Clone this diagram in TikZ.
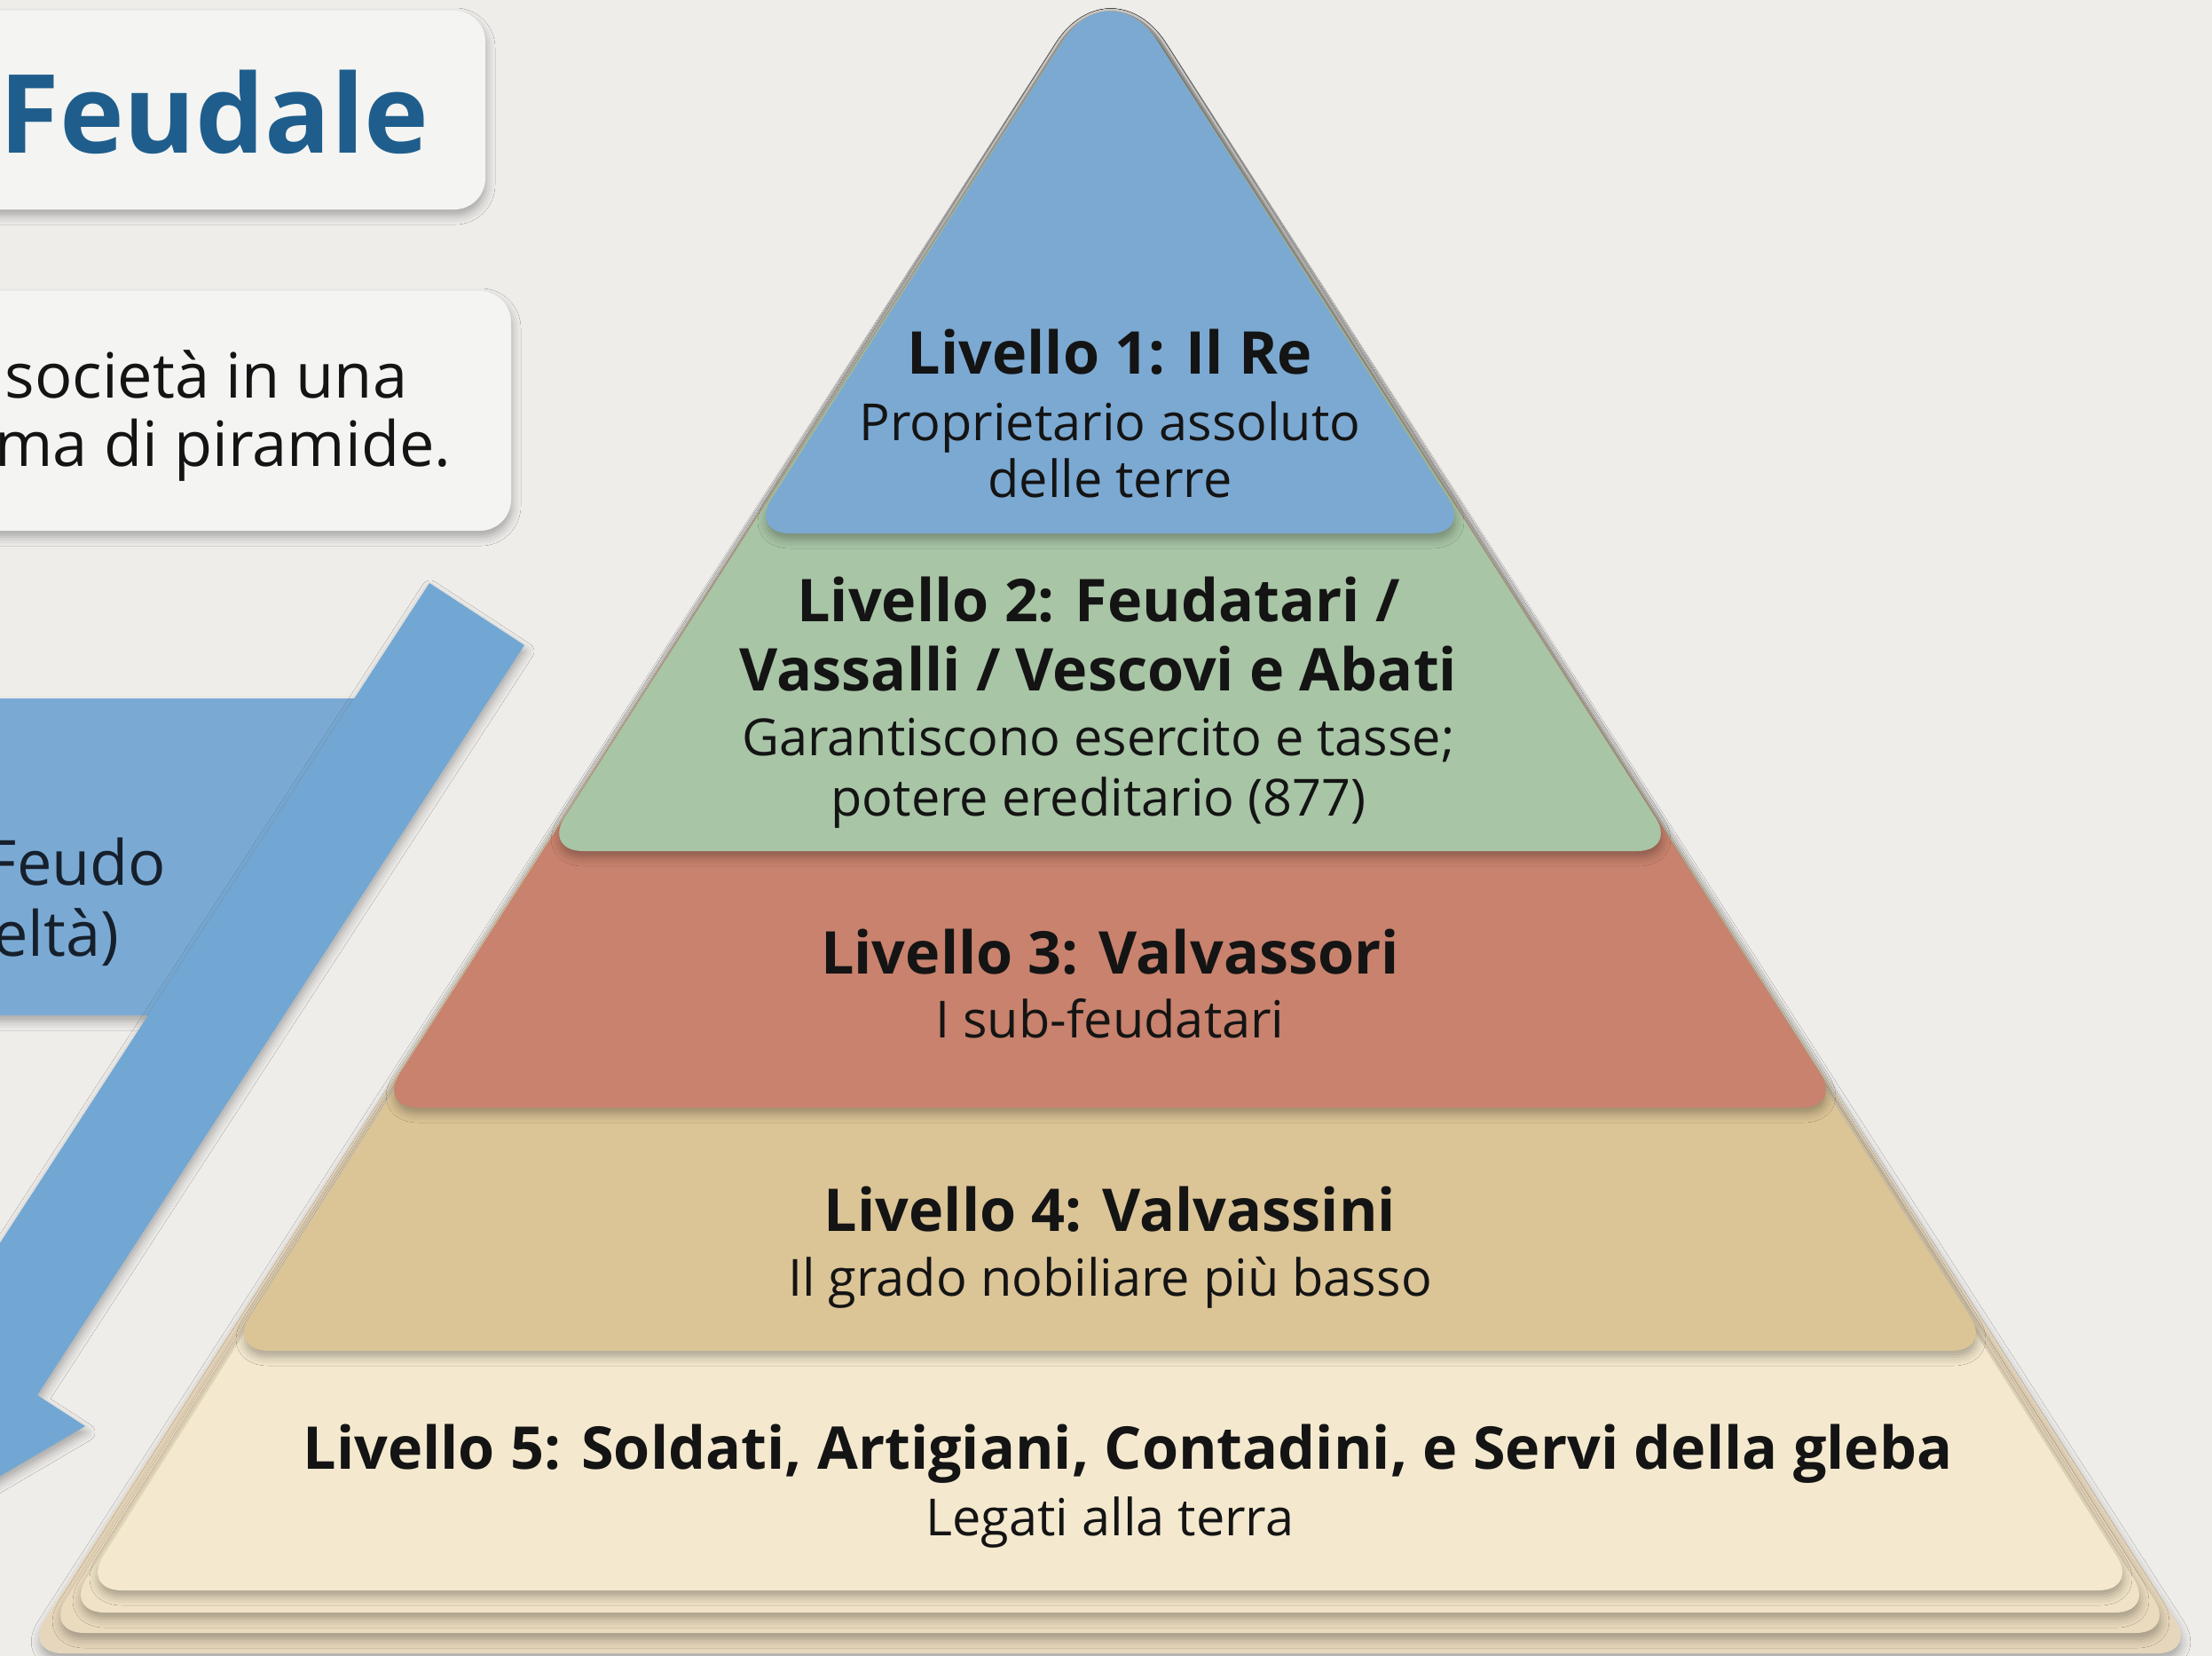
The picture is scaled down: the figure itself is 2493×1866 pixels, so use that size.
\documentclass[tikz,border=0pt]{standalone}
\usepackage{fontspec}
\setmainfont{Open Sans}
\usetikzlibrary{shadows.blur,calc}
\definecolor{bgc}{HTML}{EEEDEA}
\definecolor{boxc}{HTML}{F4F4F2}
\definecolor{titc}{HTML}{1F5E8C}
\definecolor{txtc}{HTML}{141414}
\definecolor{bandtxt}{HTML}{16202C}
\definecolor{arrc}{HTML}{72A7D4}
\definecolor{bandc}{HTML}{7AAAD4}
\definecolor{lone}{HTML}{7BA9D2}
\definecolor{ltwo}{HTML}{A8C5A6}
\definecolor{lthree}{HTML}{C8826D}
\definecolor{lfour}{HTML}{DBC496}
\definecolor{lfive}{HTML}{F4E9CF}
\definecolor{exone}{HTML}{EFE2C6}
\definecolor{extwo}{HTML}{EADBBE}
\definecolor{exthree}{HTML}{E6D6BB}
\tikzset{
  shad/.style={blur shadow={shadow xshift=0.01cm, shadow yshift=-0.07cm, shadow blur radius=0.1cm, shadow opacity=30}},
  layer/.style={shad},
  lvlhead/.style={font=\bfseries\fontsize{18.9}{22}\selectfont, text=txtc, inner sep=0pt, anchor=base},
  lvlsub/.style={font=\fontsize{16.4}{19}\selectfont, text=txtc, inner sep=0pt, anchor=base},
  boxtxt/.style={font=\fontsize{20}{23}\selectfont, text=txtc, inner sep=0pt, anchor=base east},
  panel/.style={fill=boxc, rounded corners=0.35cm, shad}
}
% triangle layer with rounded corners: #1 bottom y, #2 half width, #3 colour
\newcommand{\pyrlayer}[3]{%
  \coordinate (apx) at (1251,-37);
  \coordinate (cr) at (1251+#2,#1);
  \coordinate (cl) at (1251-#2,#1);
  \coordinate (pr) at ($(apx)!1cm!(cr)$);
  \coordinate (pl) at ($(apx)!1cm!(cl)$);
  \coordinate (rb) at ($(cr)!0.45cm!(cl)$);
  \coordinate (ru) at ($(cr)!0.45cm!(apx)$);
  \coordinate (lb) at ($(cl)!0.45cm!(cr)$);
  \coordinate (lu) at ($(cl)!0.45cm!(apx)$);
  \path[layer, fill=#3] (rb) .. controls ($(rb)!0.55!(cr)$) and ($(ru)!0.55!(cr)$) .. (ru)
    -- (pr) .. controls ($(pr)!0.55!(apx)$) and ($(pl)!0.55!(apx)$) .. (pl)
    -- (lu) .. controls ($(lu)!0.55!(cl)$) and ($(lb)!0.55!(cl)$) .. (lb) -- cycle;}
\begin{document}
\begin{tikzpicture}[x=0.01cm, y=-0.01cm]
\useasboundingbox (0,0) rectangle (2493,1866);
\clip (0,0) rectangle (2493,1866);
\fill[bgc] (0,0) rectangle (2493,1866);

% title panel
\path[panel] (-60,12) rectangle (547,236);
\node[font=\bfseries\fontsize{35}{40}\selectfont, text=titc, inner sep=0pt, anchor=base east] (title) at (484,172) {Feudale};

% text panel
\path[panel] (-60,328) rectangle (576,598);
\node[boxtxt] (intro1) at (460,448) {società in una};
\node[boxtxt] (intro2) at (509,525) {ma di piramide.};

% blue band and arrow
\path[fill=bandc, shad] (-60,787) -- (470,787) -- (240,1144) -- (-60,1144) -- cycle;
\node[boxtxt, text=bandtxt] (band1) at (188,997) {Feudo};
\node[boxtxt, text=bandtxt] (band2) at (135,1077) {eltà)};
\path[fill=arrc, shad] (484,657) -- (591,727) -- (42,1572) -- (96,1607) -- (-153,1753) -- (-120,1467) -- (-66,1502) -- cycle;

% pyramid stack
\pyrlayer{1863}{1225}{exthree}
\pyrlayer{1840}{1201}{extwo}
\pyrlayer{1817}{1178}{exone}
\pyrlayer{1792}{1159}{lfive}
\pyrlayer{1522}{994}{lfour}
\pyrlayer{1248}{825}{lthree}
\pyrlayer{959}{639}{ltwo}
\pyrlayer{601}{406}{lone}

% level texts
\node[lvlhead] (l1a) at (1251,421) {Livello 1: Il Re};
\node[lvlsub] (l1b) at (1251,496) {Proprietario assoluto};
\node[lvlsub] (l1c) at (1251,560) {delle terre};

\node[lvlhead] (l2a) at (1238,700) {Livello 2: Feudatari /};
\node[lvlhead] (l2b) at (1238,778) {Vassalli / Vescovi e Abati};
\node[lvlsub] (l2c) at (1238,851) {Garantiscono esercito e tasse;};
\node[lvlsub] (l2d) at (1238,919) {potere ereditario (877)};

\node[lvlhead] (l3a) at (1251,1097) {Livello 3: Valvassori};
\node[lvlsub] (l3b) at (1251,1169) {I sub-feudatari};

\node[lvlhead] (l4a) at (1251,1387) {Livello 4: Valvassini};
\node[lvlsub] (l4b) at (1251,1460) {Il grado nobiliare più basso};

\node[lvlhead] (l5a) at (1271,1655) {Livello 5: Soldati, Artigiani, Contadini, e Servi della gleba};
\node[lvlsub] (l5b) at (1251,1730) {Legati alla terra};
\end{tikzpicture}
\end{document}
